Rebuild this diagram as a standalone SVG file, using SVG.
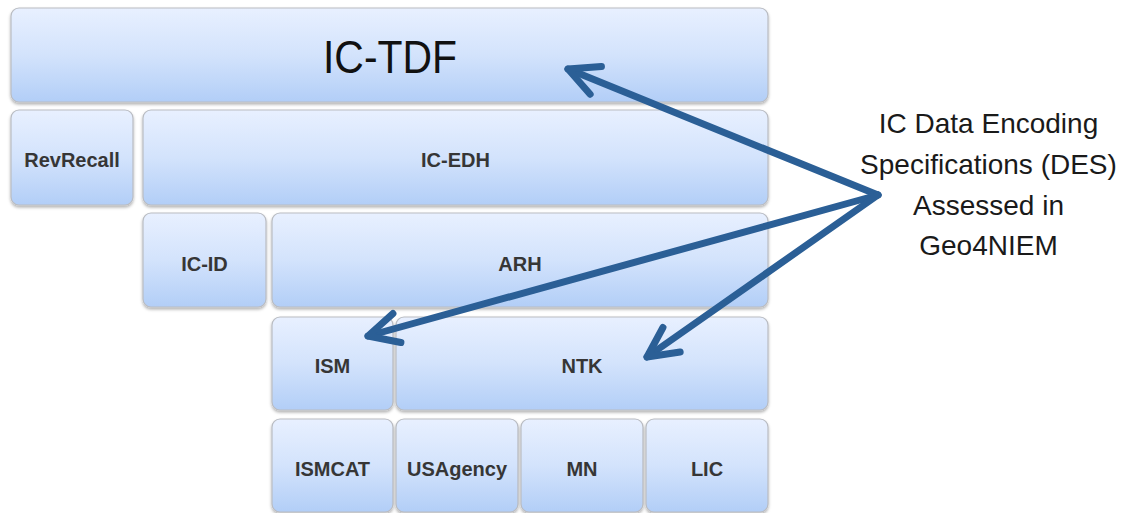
<svg xmlns="http://www.w3.org/2000/svg" width="1127" height="513" viewBox="0 0 1127 513">
<defs>
<linearGradient id="boxGrad" x1="0" y1="0" x2="0" y2="1">
<stop offset="0" stop-color="#e8f0ff"/>
<stop offset="0.5" stop-color="#d3e3fc"/>
<stop offset="1" stop-color="#b2cef7"/>
</linearGradient>
<filter id="shadow" x="-5%" y="-10%" width="110%" height="130%">
<feDropShadow dx="0" dy="2" stdDeviation="1.5" flood-color="#000" flood-opacity="0.3"/>
</filter>
<marker id="chev" markerUnits="userSpaceOnUse" orient="auto" refX="0" refY="0" markerWidth="60" markerHeight="60" overflow="visible">
<path d="M-30,-15 L0,0 L-30,15" fill="none" stroke="#2b5f96" stroke-width="7" stroke-linecap="round" stroke-linejoin="round"/>
</marker>
<style>
.box{fill:url(#boxGrad);stroke:#b9bcc2;stroke-width:1.2;filter:url(#shadow)}
.lbl{font-family:"Liberation Sans",Arial,sans-serif;font-weight:bold;font-size:20px;fill:#363636;text-anchor:middle}
.big{font-family:"Liberation Sans",Arial,sans-serif;font-size:46px;fill:#111;text-anchor:middle}
.note{font-family:"Liberation Sans",Arial,sans-serif;font-size:28px;fill:#1a1a1a;text-anchor:middle}
.arrow{fill:none;stroke:#2b5f96;stroke-width:7;stroke-linecap:round;stroke-linejoin:round;marker-end:url(#chev)}
</style>
</defs>
<rect width="1127" height="513" fill="#ffffff"/>

<g id="ic-tdf"><rect class="box" x="11" y="8" width="757" height="94" rx="8"/><text class="big" x="390" y="73" textLength="134" lengthAdjust="spacingAndGlyphs">IC-TDF</text></g>
<g id="revrecall"><rect class="box" x="11" y="110" width="122" height="95" rx="8"/><text class="lbl" x="72" y="167">RevRecall</text></g>
<g id="ic-edh"><rect class="box" x="143" y="110" width="625" height="95" rx="8"/><text class="lbl" x="455.5" y="167">IC-EDH</text></g>
<g id="ic-id"><rect class="box" x="143" y="213" width="123" height="94" rx="8"/><text class="lbl" x="204.5" y="271">IC-ID</text></g>
<g id="arh"><rect class="box" x="272" y="213" width="496" height="94" rx="8"/><text class="lbl" x="520" y="271">ARH</text></g>
<g id="ism"><rect class="box" x="272" y="317" width="121" height="93" rx="8"/><text class="lbl" x="332.5" y="373">ISM</text></g>
<g id="ntk"><rect class="box" x="396" y="317" width="372" height="93" rx="8"/><text class="lbl" x="582" y="373">NTK</text></g>
<g id="ismcat"><rect class="box" x="272" y="419" width="121" height="93" rx="8"/><text class="lbl" x="332.5" y="476">ISMCAT</text></g>
<g id="usagency"><rect class="box" x="396" y="419" width="122" height="93" rx="8"/><text class="lbl" x="457" y="476">USAgency</text></g>
<g id="mn"><rect class="box" x="521" y="419" width="122" height="93" rx="8"/><text class="lbl" x="582" y="476">MN</text></g>
<g id="lic"><rect class="box" x="646" y="419" width="122" height="93" rx="8"/><text class="lbl" x="707" y="476">LIC</text></g>

<g id="note">
<text class="note" x="988.5" y="133">IC Data Encoding</text>
<text class="note" x="988.5" y="174">Specifications (DES)</text>
<text class="note" x="988.5" y="214.5">Assessed in</text>
<text class="note" x="988.5" y="255">Geo4NIEM</text>
</g>

<g id="connectors">
<path class="arrow" d="M878,195 L568,69"/>
<path class="arrow" d="M878,195 L368,336"/>
<path class="arrow" d="M878,195 L647,357"/>
</g>
</svg>
